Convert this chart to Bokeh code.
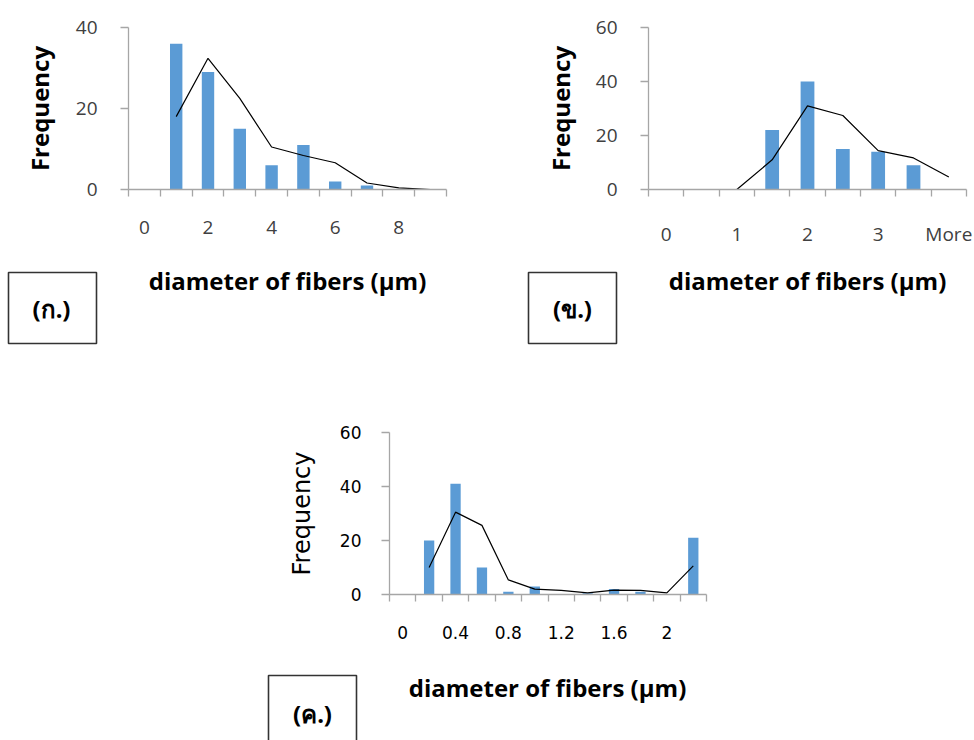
from bokeh.plotting import figure
from bokeh.layouts import column, row, Spacer
from bokeh.models import Range1d, FixedTicker, Label, PolyAnnotation
from bokeh.embed import file_html
from bokeh.resources import INLINE

# ---------------- data ----------------
a_categories = ["0", "1", "2", "3", "4", "5", "6", "7", "8", "9"]
a_counts = [0, 36, 29, 15, 6, 11, 2, 1, 0, 0]
a_curve = [18, 32.4, 22.5, 10.5, 8.4, 6.6, 1.6, 0.4, 0]      # from category 1
a_yticks = [0, 20, 40]

b_categories = ["0", "0.5", "1", "1.5", "2", "2.5", "3", "3.5", "More"]
b_counts = [0, 0, 0, 22, 40, 15, 14, 9, 0]
b_curve = [0, 0, 11, 31, 27.4, 14.4, 11.7, 4.6]              # from category 1
b_yticks = [0, 20, 40, 60]

c_categories = ["0", "0.2", "0.4", "0.6", "0.8", "1", "1.2", "1.4", "1.6", "1.8", "2", "More"]
c_counts = [0, 20, 41, 10, 1, 3, 0, 0.5, 2, 1, 0, 21]
c_curve = [10, 30.5, 25.6, 5.4, 2.0, 1.5, 0.6, 1.6, 1.5, 0.6, 10.6]  # from category 1
c_yticks = [0, 20, 40, 60]

x_title = "diameter of fibers (µm)"
y_title = "Frequency"
panel_tags = ["(ก.)", "(ข.)", "(ค.)"]

BAR = "#5b9bd5"
AXIS = "#a6a6a6"


def make_chart(cats, counts, curve, yticks, width, height, bl, br, bt, bb,
               tick_font, tick_size, tick_color, ylab_font, ylab_size, ylab_style,
               ylab_standoff, ytick_standoff, xtick_standoff):
    n = len(cats)
    ymax = yticks[-1]
    p = figure(width=width, height=height, output_backend="svg", toolbar_location=None,
               x_range=Range1d(0, n), y_range=Range1d(0, ymax),
               min_border_left=bl, min_border_right=br, min_border_top=bt,
               min_border_bottom=bb, outline_line_color=None,
               background_fill_color="white", border_fill_color="white")
    p.grid.visible = False
    centers = [i + 0.5 for i in range(n)]
    p.vbar(x=centers, top=counts, width=0.39, fill_color=BAR, line_color=None)
    p.line(x=centers[1:], y=curve, line_color="black", line_width=1.2)

    # x axis: labels at every other category centre, tick marks at boundaries
    xa = p.xaxis[0]
    shown = centers[::2]
    xa.ticker = FixedTicker(ticks=shown, minor_ticks=list(range(n + 1)))
    xa.major_label_overrides = {c: cats[i * 2] for i, c in enumerate(shown)}
    xa.major_tick_line_color = None
    xa.major_tick_out = 7
    xa.minor_tick_out = 7
    xa.minor_tick_in = 0
    xa.minor_tick_line_color = AXIS
    xa.minor_tick_line_width = 1.3
    xa.axis_line_color = AXIS
    xa.axis_line_width = 1.3
    xa.major_label_text_font = tick_font
    xa.major_label_text_font_size = tick_size
    xa.major_label_text_color = tick_color
    xa.major_label_standoff = xtick_standoff

    ya = p.yaxis[0]
    ya.ticker = FixedTicker(ticks=yticks)
    ya.minor_tick_line_color = None
    ya.major_tick_out = 8
    ya.major_tick_in = 0
    ya.major_tick_line_color = AXIS
    ya.major_tick_line_width = 1.3
    ya.axis_line_color = AXIS
    ya.axis_line_width = 1.3
    ya.major_label_text_font = tick_font
    ya.major_label_text_font_size = tick_size
    ya.major_label_text_color = tick_color
    ya.major_label_standoff = ytick_standoff
    ya.axis_label = y_title
    ya.axis_label_text_font = ylab_font
    ya.axis_label_text_font_size = ylab_size
    ya.axis_label_text_font_style = ylab_style
    ya.axis_label_text_color = "black"
    ya.axis_label_standoff = ylab_standoff
    return p


def make_strip(x0, x1, y0, y1, panels):
    """Full-width strip under charts holding x titles and boxed panel tags
    (coordinates are page pixels)."""
    p = figure(width=x1 - x0, height=y1 - y0, output_backend="svg",
               toolbar_location=None, x_range=Range1d(x0, x1), y_range=Range1d(y1, y0),
               x_axis_location=None, y_axis_location=None, min_border=0,
               min_border_left=0, min_border_right=0, min_border_top=0,
               min_border_bottom=0,
               outline_line_color=None, background_fill_color="white",
               border_fill_color="white")
    p.grid.visible = False
    for box, tag, tag_xy, title_xy in panels:
        l, t, r, b = box
        p.add_layout(PolyAnnotation(xs=[l, r, r, l], ys=[t, t, b, b],
                                    xs_units="data", ys_units="data",
                                    fill_alpha=0, line_alpha=1.0,
                                    line_color="#333333", line_width=1.6))
        p.add_layout(Label(x=tag_xy[0], y=tag_xy[1], text=tag,
                           text_align="center", text_baseline="middle",
                           text_font="Noto Sans", text_font_size="24px",
                           text_font_style="bold", text_color="black"))
        p.add_layout(Label(x=title_xy[0], y=title_xy[1], text=x_title,
                           text_align="center", text_baseline="middle",
                           text_font="Open Sans", text_font_size="24px",
                           text_font_style="bold", text_color="black"))
    return p


# chart A: frame at page x 128..446, y 27..189
pa = make_chart(a_categories, a_counts, a_curve, a_yticks,
                518, 262, 128, 72, 27, 73,
                "Open Sans", "19px", "#404040", "Open Sans", "24px", "bold", 17, 23, 24)
# chart B: frame at page x 648..966
pb = make_chart(b_categories, b_counts, b_curve, b_yticks,
                456, 262, 130, 8, 27, 73,
                "Open Sans", "19px", "#404040", "Open Sans", "24px", "bold", 16, 23, 24)
strip1 = make_strip(0, 974, 262, 360, [
    ((8, 272, 96, 343), panel_tags[0], (51, 308), (287, 280)),
    ((528, 272, 616, 343), panel_tags[1], (572, 308), (807, 280)),
])
# chart C: frame at page x 389..706, y 432..594
pc = make_chart(c_categories, c_counts, c_curve, c_yticks,
                460, 308, 131, 12, 72, 74,
                "DejaVu Sans", "17px", "black", "DejaVu Sans", "24px", "normal", 21, 20, 24)
strip2 = make_strip(0, 974, 668, 740, [
    ((268, 675, 356, 760), panel_tags[2], (312, 713), (547, 687)),
])

layout = column(
    row(pa, pb),
    strip1,
    row(Spacer(width=258, height=308), pc),
    strip2,
)
open("out.html", "w").write(file_html(layout, INLINE))
